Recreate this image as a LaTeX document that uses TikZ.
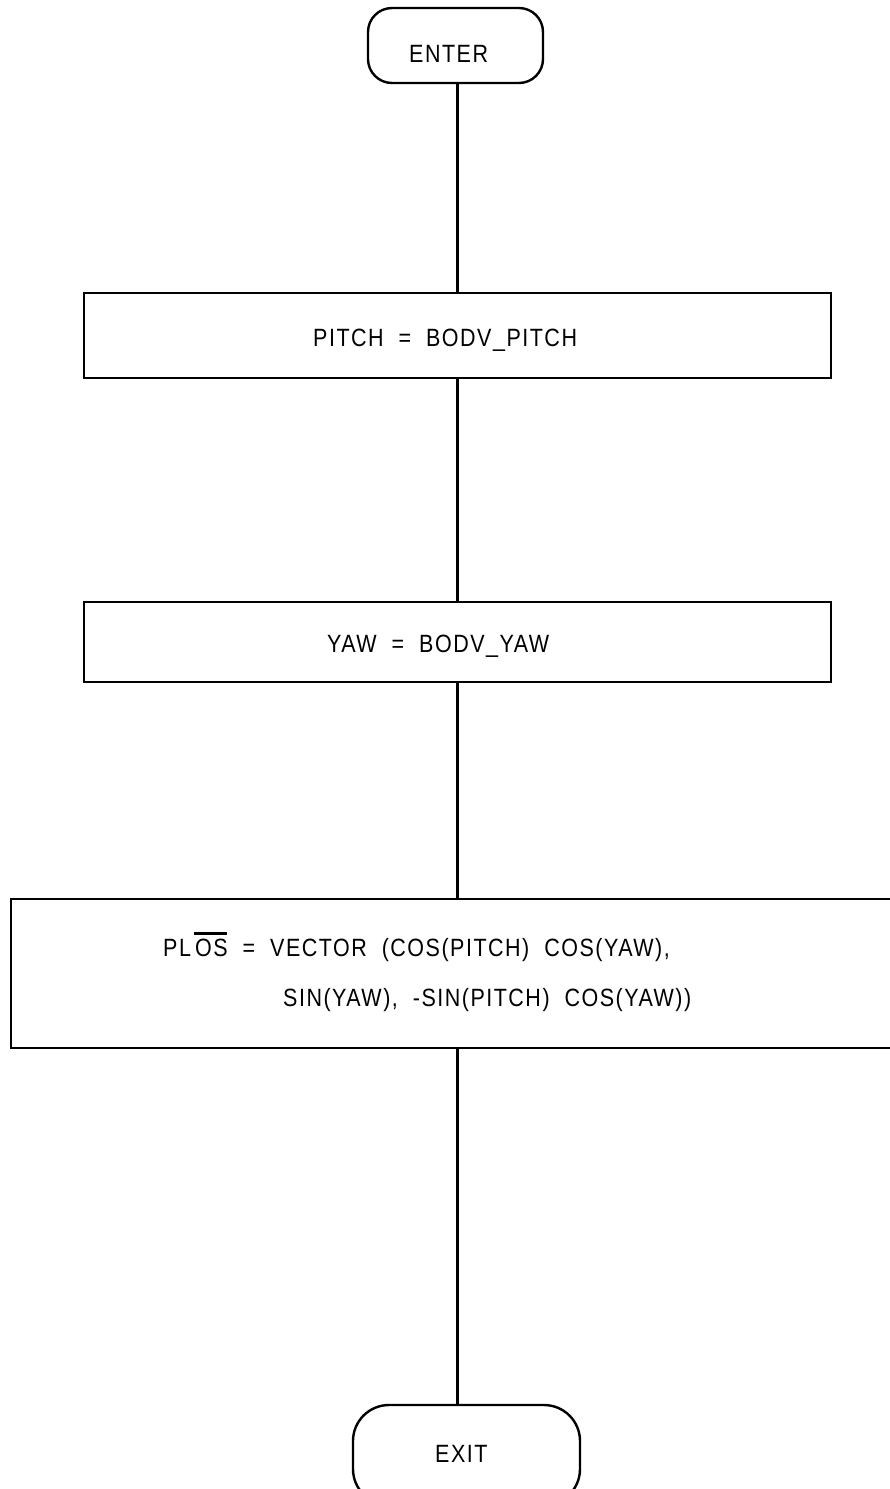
\documentclass[tikz,border=0pt]{standalone}
\usepackage{fontspec}
\setmainfont{Liberation Sans}[FakeStretch=0.86,LetterSpace=6]
\newlength\myovlw
\newcommand\myovl[1]{\settowidth\myovlw{#1}\rlap{\hspace*{-0.05em}\rule[0.84em]{\dimexpr\myovlw+0.02em\relax}{0.12em}}#1}
\newcommand\dsp{\ \ }
\begin{document}
\begin{tikzpicture}[x=1pt,y=-1pt,line width=2.4pt,
  term/.style={draw,rectangle,rounded corners=24pt,inner sep=0pt},
  proc/.style={draw,rectangle,inner sep=0pt},
  txt/.style={inner sep=0pt,anchor=base west,font=\fontsize{25}{30}\selectfont}]
\useasboundingbox (0,0) rectangle (890,1489);
\clip (0,0) rectangle (890,1489);
\node[term,minimum width=175pt,minimum height=75pt] (enter) at (455.5,45.5) {};
\node[proc,minimum width=747pt,minimum height=85pt] (pitch) at (457.5,335.5) {};
\node[proc,minimum width=747pt,minimum height=80pt] (yaw) at (457.5,642) {};
\node[proc,minimum width=909pt,minimum height=149pt] (plos) at (465.5,973.5) {};
\node[term,rounded corners=36pt,minimum width=227pt,minimum height=100pt] (exit) at (466.5,1455) {};
\node[txt] (enterT) at (408,62) {ENTER};
\node[txt] (pitchT) at (312,346) {PITCH\dsp=\dsp BODV\_PITCH};
\node[txt] (yawT) at (326,652) {YAW\dsp=\dsp BODV\_YAW};
\node[txt] (plosA) at (162,956) {PL\,\myovl{OS}\dsp=\dsp VECTOR\dsp(COS(PITCH)\dsp COS(YAW),};
\node[txt] (plosB) at (282,1006) {SIN(YAW),\dsp-SIN(PITCH)\dsp COS(YAW))};
\node[txt] (exitT) at (434,1462) {EXIT};
\draw (pitch.north |- enter.south) -- (pitch.north);
\draw (pitch.south) -- (yaw.north);
\draw (yaw.south) -- (plos.north -| yaw.south);
\draw (plos.south -| yaw.south) -- (exit.north -| yaw.south);
\end{tikzpicture}
\end{document}
